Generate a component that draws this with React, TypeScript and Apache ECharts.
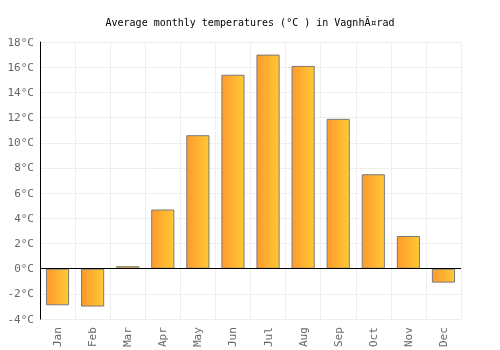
import React, { useEffect, useRef } from "react";
import * as echarts from "echarts";

const months = ["Jan", "Feb", "Mar", "Apr", "May", "Jun", "Jul", "Aug", "Sep", "Oct", "Nov", "Dec"];
const temps = [-2.9, -3.0, 0.2, 4.7, 10.6, 15.4, 17.0, 16.1, 11.9, 7.5, 2.6, -1.1];
const titleText = "Average monthly temperatures (°C ) in VagnhÃ¤rad";

export default function App() {
  const ref = useRef<HTMLDivElement>(null);
  useEffect(() => {
    if (!ref.current) return;
    const chart = echarts.init(ref.current, null, { renderer: "svg" });
    const font = "'DejaVu Sans Mono', monospace";
    chart.setOption({
      animation: false,
      title: {
        text: titleText,
        left: "center",
        top: 12,
        textStyle: { fontFamily: font, fontSize: 10, fontWeight: "normal", color: "#000" },
      },
      grid: { left: 40, right: 39, top: 42, bottom: 29, containLabel: false },
      xAxis: {
        type: "category",
        data: months,
        axisLine: { show: false, onZero: false },
        axisTick: { show: false },
        splitLine: { show: true, lineStyle: { color: "#eeeeee", width: 1 } },
        axisLabel: { rotate: 90, color: "#666", fontFamily: font, fontSize: 11, margin: 8, interval: 0 },
      },
      yAxis: {
        type: "value",
        min: -4,
        max: 18,
        interval: 2,
        axisLine: { show: true, lineStyle: { color: "#000", width: 1 } },
        axisTick: { show: false },
        splitLine: { show: true, lineStyle: { color: "#eeeeee", width: 1 } },
        axisLabel: { formatter: "{value}°C", color: "#666", fontFamily: font, fontSize: 11, margin: 6 },
      },
      series: [
        {
          type: "bar",
          data: temps,
          barWidth: "66%",
          itemStyle: {
            color: new echarts.graphic.LinearGradient(0, 0, 1, 0, [
              { offset: 0, color: "#ff9a2e" },
              { offset: 1, color: "#ffc933" },
            ]),
            borderColor: "#7a7a7a",
            borderWidth: 1,
          },
          markLine: {
            silent: true,
            symbol: "none",
            label: { show: false },
            lineStyle: { color: "#000", width: 1, type: "solid" },
            data: [{ yAxis: 0 }],
          },
        },
      ],
    });
    return () => chart.dispose();
  }, []);
  return <div ref={ref} style={{ width: 500, height: 350, position: "fixed", left: 0, top: 0 }} />;
}
